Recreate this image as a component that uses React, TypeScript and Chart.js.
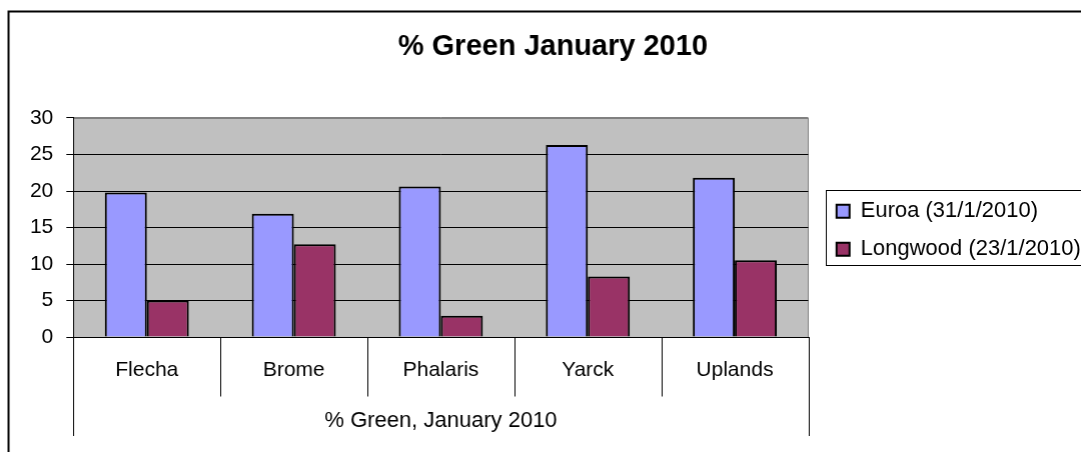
import React, { useEffect, useRef } from "react";
import { Chart, registerables } from "chart.js";

Chart.register(...registerables);

// ---- data ----
const categories = ["Flecha", "Brome", "Phalaris", "Yarck", "Uplands"];
const seriesNames = ["Euroa (31/1/2010)", "Longwood (23/1/2010)"];
const euroaValues = [19.8, 16.9, 20.6, 26.3, 21.8];
const longwoodValues = [5.0, 12.7, 2.9, 8.3, 10.5];
const chartTitle = "% Green January 2010";
const groupTitle = "% Green, January 2010";
const yMin = 0;
const yMax = 30;
const yStep = 5;

// ---- layout / style ----
const FONT = "'Liberation Sans', Arial, Helvetica, sans-serif";
const H = 452;
const W_GUESS = 1095;
const PLOT_LEFT = 73.3;
const PLOT_RIGHT = 807.5;
const PLOT_BOTTOM = 337;
const PAD_LEFT = 15;
const PAD_TOP = 8.6;
const LEGEND_GAP = 12.2;
const COLORS = ["#9999FF", "#993366"];

const decoPlugin = {
  id: "deco",
  beforeDraw(chart: any) {
    const { ctx, chartArea: a } = chart;
    ctx.save();
    ctx.strokeStyle = "#000";
    ctx.lineWidth = 2;
    ctx.strokeRect(8.5, 11.5, chart.width + 50, H + 50);
    ctx.fillStyle = "#C0C0C0";
    ctx.fillRect(a.left, a.top, a.right - a.left, a.bottom - a.top);
    ctx.strokeStyle = "#808080";
    ctx.lineWidth = 1;
    ctx.strokeRect(Math.round(a.left) + 0.5, Math.round(a.top) + 0.5, Math.round(a.right - a.left), Math.round(a.bottom - a.top));
    ctx.restore();
  },
  afterDraw(chart: any) {
    const { ctx } = chart;
    const xs = chart.scales.x;
    const n = categories.length;
    const half = (xs.getPixelForValue(1) - xs.getPixelForValue(0)) / 2;
    ctx.save();
    ctx.strokeStyle = "#000";
    ctx.lineWidth = 1;
    for (let i = 0; i <= n; i++) {
      const px = i < n ? xs.getPixelForValue(i) - half : xs.getPixelForValue(n - 1) + half;
      const x = Math.round(px) + 0.5;
      const yEnd = i === 0 || i === n ? 436 : 396.5;
      ctx.beginPath();
      ctx.moveTo(x, xs.top);
      ctx.lineTo(x, yEnd);
      ctx.stroke();
    }
    const lg = chart.legend;
    if (lg && lg.legendHitBoxes && lg.legendHitBoxes.length) {
      const hb = lg.legendHitBoxes;
      const first = hb[0];
      const last = hb[hb.length - 1];
      const left = Math.round(first.left - 10.5) + 0.5;
      const top = Math.round(first.top - 10.3) + 0.5;
      const bottom = Math.round(last.top + last.height + 4.7) + 0.5;
      const right = lg.right + 20;
      ctx.strokeStyle = "#000";
      ctx.lineWidth = 1;
      ctx.strokeRect(left, top, right - left, bottom - top);
    }
    ctx.restore();
  },
};

export default function App() {
  const canvasRef = useRef<HTMLCanvasElement | null>(null);

  useEffect(() => {
    const canvas = canvasRef.current;
    if (!canvas) return;
    const chart = new Chart(canvas, {
      type: "bar",
      data: {
        labels: categories,
        datasets: [
          {
            label: seriesNames[0],
            data: euroaValues,
            backgroundColor: COLORS[0],
            borderColor: "#000",
            borderWidth: 2,
            categoryPercentage: 2 / 3.5,
            barPercentage: 1,
          },
          {
            label: seriesNames[1],
            data: longwoodValues,
            backgroundColor: COLORS[1],
            borderColor: "#000",
            borderWidth: 2,
            categoryPercentage: 2 / 3.5,
            barPercentage: 1,
          },
        ],
      },
      options: {
        responsive: false,
        maintainAspectRatio: false,
        animation: false,
        devicePixelRatio: 1,
        layout: { padding: { left: PAD_LEFT, top: PAD_TOP, right: 0, bottom: 0 } },
        plugins: {
          title: {
            display: true,
            text: chartTitle,
            color: "#000",
            font: { family: FONT, size: 29, weight: "bold", lineHeight: 1.2 },
            padding: { top: 20.5, bottom: 54.1 },
          },
          legend: {
            display: true,
            position: "right",
            align: "center",
            maxWidth: 600,
            labels: {
              color: "#000",
              font: { family: FONT, size: 22 },
              boxWidth: 13,
              boxHeight: 13,
              padding: 16,
            },
          },
          tooltip: { enabled: false },
        },
        scales: {
          x: {
            type: "category",
            position: "bottom",
            offset: true,
            grid: { display: false, drawTicks: false },
            border: { display: true, color: "#000", width: 1 },
            ticks: {
              color: "#000",
              font: { family: FONT, size: 21, lineHeight: 1.2 },
              padding: 21,
              maxRotation: 0,
              autoSkip: false,
            },
            title: {
              display: true,
              text: groupTitle,
              color: "#000",
              font: { family: FONT, size: 22, lineHeight: 1.2 },
              padding: { top: 0, bottom: 18 },
            },
            afterFit: (s: any) => {
              s.height = H - PLOT_BOTTOM;
            },
          },
          y: {
            type: "linear",
            position: "left",
            min: yMin,
            max: yMax,
            grid: {
              display: true,
              drawTicks: true,
              tickLength: 7,
              tickColor: "#000",
              lineWidth: 1,
              color: (c: any) => (c.tick && c.tick.value === yMax ? "#808080" : "#000"),
            },
            border: { display: true, color: "#000", width: 1 },
            ticks: {
              stepSize: yStep,
              color: "#000",
              font: { family: FONT, size: 21, lineHeight: 1.2 },
              padding: 13,
            },
            afterFit: (s: any) => {
              s.width = PLOT_LEFT - PAD_LEFT;
            },
          },
          gap: {
            type: "linear",
            position: "right",
            display: true,
            grid: { display: false, drawTicks: false },
            border: { display: false },
            ticks: { display: false },
            afterFit: (s: any) => {
              s.width = LEGEND_GAP;
            },
          },
        },
      },
      plugins: [decoPlugin],
    } as any);

    for (let k = 0; k < 3; k++) {
      const delta = PLOT_RIGHT - chart.chartArea.right;
      if (Math.abs(delta) <= 0.2) break;
      chart.resize(chart.width + delta, H);
    }

    return () => {
      chart.destroy();
    };
  }, []);

  return (
    <div
      style={{
        position: "absolute",
        left: 0,
        top: 0,
        width: 1081,
        height: 452,
        overflow: "hidden",
        background: "#fff",
      }}
    >
      <canvas ref={canvasRef} width={W_GUESS} height={H} style={{ display: "block" }} />
    </div>
  );
}
